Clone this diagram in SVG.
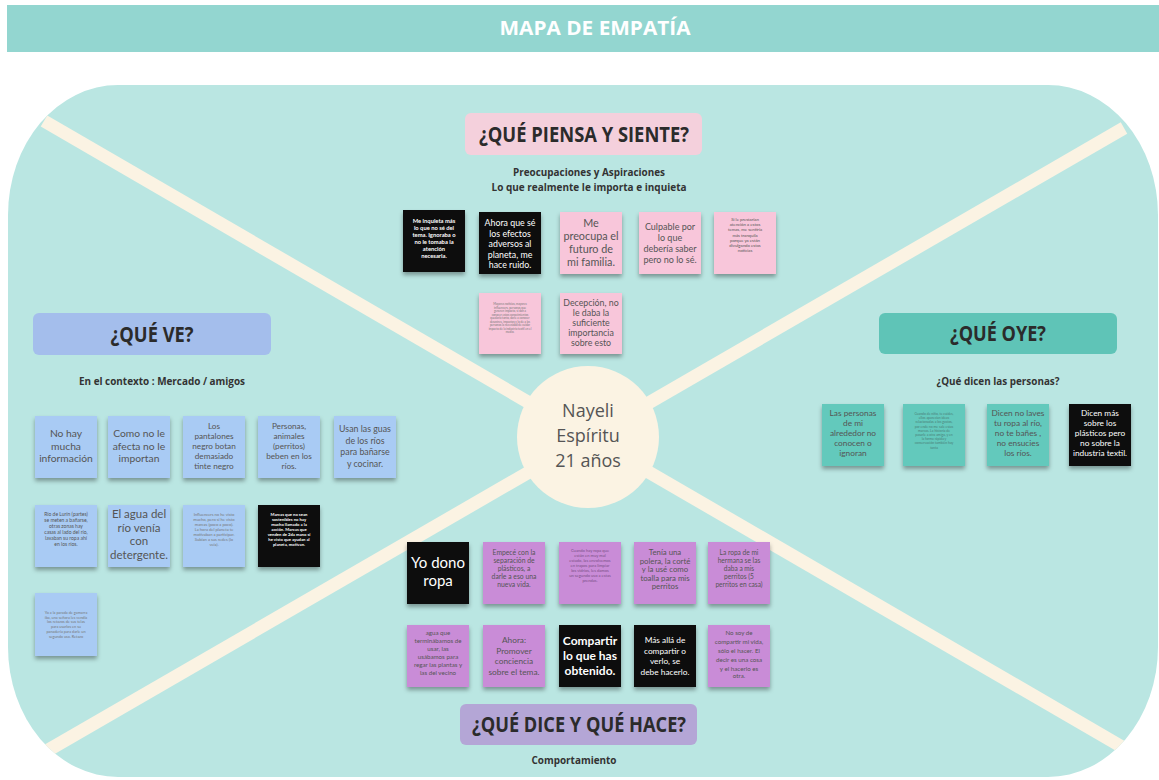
<svg xmlns="http://www.w3.org/2000/svg" width="1159" height="780" viewBox="0 0 1159 780">
<style>
text{font-family:"Open Sans","Liberation Sans",sans-serif;text-anchor:middle}
.hd{font-weight:700;fill:#2b2b2b;font-size:21px}
.sub{font-weight:700;fill:#333;font-size:10.5px}
.nt,.wt,.tiny{font-family:Lato,"Open Sans",sans-serif}
.nt{fill:#555}
.wt{fill:#fff}
.tiny{fill:#777}
.pink{fill:#F8C6DA}
.blue{fill:#A9CBF4}
.teal{fill:#63C9BC}
.purp{fill:#C98CD7}
.blk{fill:#111}
.line{stroke:#FBF3E3;stroke-width:13;fill:none}
</style>
<defs>
<filter id="sh" x="-20%" y="-20%" width="140%" height="150%">
<feDropShadow dx="0" dy="3" stdDeviation="2" flood-color="#000" flood-opacity="0.35"/>
</filter>
<clipPath id="bigclip"><rect x="8" y="85" width="1150" height="692" rx="110" ry="130"/></clipPath>
</defs>
<rect width="1159" height="780" fill="#ffffff"/>
<g id="header">
<rect x="7" y="5" width="1152" height="47" fill="#93D6D0"/>
<text x="595" y="35" font-size="20" font-weight="700" fill="#fff" textLength="191" lengthAdjust="spacingAndGlyphs">MAPA DE EMPATÍA</text>
</g>
<g id="board">
<rect x="8" y="85" width="1150" height="692" rx="110" ry="130" fill="#BAE6E2"/>
</g>
<g id="connectors" clip-path="url(#bigclip)">
<line class="line" x1="44" y1="121" x2="1136" y2="755"/>
<line class="line" x1="1124" y1="128" x2="38" y2="756"/>
</g>
<g id="center">
<circle cx="588" cy="437" r="71" fill="#FBF3E3"/>
<text x="588" y="417" font-size="18" fill="#555">Nayeli</text>
<text x="588" y="442" font-size="18" fill="#555">Espíritu</text>
<text x="588" y="467" font-size="18" fill="#555">21 años</text>
</g>
<g id="label-piensa">
<rect x="465" y="113" width="237" height="42" rx="6" fill="#F4D0DC"/>
<text class="hd" x="584" y="142" textLength="210" lengthAdjust="spacingAndGlyphs">¿QUÉ PIENSA Y SIENTE?</text>
<text class="sub" x="589" y="176" textLength="152" lengthAdjust="spacingAndGlyphs">Preocupaciones y Aspiraciones</text>
<text class="sub" x="589" y="191" textLength="195" lengthAdjust="spacingAndGlyphs">Lo que realmente le importa e inquieta</text>
</g>
<g id="label-ve">
<rect x="33" y="313" width="238" height="42" rx="6" fill="#A4BEEC"/>
<text class="hd" x="152" y="342" textLength="83" lengthAdjust="spacingAndGlyphs">¿QUÉ VE?</text>
<text class="sub" x="162" y="385" textLength="166" lengthAdjust="spacingAndGlyphs">En el contexto : Mercado / amigos</text>
</g>
<g id="label-oye">
<rect x="879" y="313" width="238" height="41" rx="6" fill="#5FC4B7"/>
<text class="hd" x="998" y="341" textLength="96" lengthAdjust="spacingAndGlyphs">¿QUÉ OYE?</text>
<text class="sub" x="998" y="385" textLength="123" lengthAdjust="spacingAndGlyphs">¿Qué dicen las personas?</text>
</g>
<g id="label-dice">
<rect x="460" y="704" width="237" height="41" rx="6" fill="#B4A6D6"/>
<text class="hd" x="579" y="732" textLength="214" lengthAdjust="spacingAndGlyphs">¿QUÉ DICE Y QUÉ HACE?</text>
<text class="sub" x="574" y="764" textLength="85" lengthAdjust="spacingAndGlyphs">Comportamiento</text>
</g>

<!-- Piensa y siente notes -->
<g id="p1"><rect class="blk" x="403" y="210" width="62" height="62" filter="url(#sh)"/>
<text class="wt" font-size="5.8" font-weight="700"><tspan x="434" y="223">Me inquieta más</tspan><tspan x="434" y="230">lo que no sé del</tspan><tspan x="434" y="237">tema. Ignoraba o</tspan><tspan x="434" y="244">no le tomaba la</tspan><tspan x="434" y="251">atención</tspan><tspan x="434" y="258">necesaria.</tspan></text></g>
<g id="p2"><rect class="blk" x="479" y="212" width="62" height="62" filter="url(#sh)"/>
<text class="wt" font-size="8.8"><tspan x="510" y="226">Ahora que sé</tspan><tspan x="510" y="236.5">los efectos</tspan><tspan x="510" y="247">adversos al</tspan><tspan x="510" y="257.5">planeta, me</tspan><tspan x="510" y="268">hace ruido.</tspan></text></g>
<g id="p3"><rect class="pink" x="560" y="212" width="62" height="62" filter="url(#sh)"/>
<text class="nt" font-size="10.8"><tspan x="591" y="227">Me</tspan><tspan x="591" y="240">preocupa el</tspan><tspan x="591" y="253">futuro de</tspan><tspan x="591" y="266">mi familia.</tspan></text></g>
<g id="p4"><rect class="pink" x="639" y="212" width="62" height="62" filter="url(#sh)"/>
<text class="nt" font-size="9"><tspan x="670" y="230">Culpable por</tspan><tspan x="670" y="241">lo que</tspan><tspan x="670" y="252">debería saber</tspan><tspan x="670" y="263">pero no lo sé.</tspan></text></g>
<g id="p5"><rect class="pink" x="714" y="212" width="62" height="62" filter="url(#sh)"/>
<text class="nt" font-size="4.3"><tspan x="745" y="221">Si le prestarían</tspan><tspan x="745" y="226.2">atención a estos</tspan><tspan x="745" y="231.4">temas, me sentiría</tspan><tspan x="745" y="236.6">más tranquila</tspan><tspan x="745" y="241.8">porque ya están</tspan><tspan x="745" y="247">divulgando estas</tspan><tspan x="745" y="252.2">noticias</tspan></text></g>
<g id="p6"><rect class="pink" x="479" y="293" width="62" height="61" filter="url(#sh)"/>
<text class="tiny" font-size="2.9"><tspan x="510" y="305">Mayores noticias, mayores</tspan><tspan x="510" y="308.5">influencers, personas que</tspan><tspan x="510" y="312">generen impacto, si dan a</tspan><tspan x="510" y="315.5">conocer estos conocimientos</tspan><tspan x="510" y="319">quedaría tanto, darle a conocer</tspan><tspan x="510" y="322.5">desastres, impactos y lo de a las</tspan><tspan x="510" y="326">personas la necesidad de cuidar</tspan><tspan x="510" y="329.5">impacto de la industria textil en el</tspan><tspan x="510" y="333">medio.</tspan></text></g>
<g id="p7"><rect class="pink" x="560" y="293" width="62" height="61" filter="url(#sh)"/>
<text class="nt" font-size="8.8"><tspan x="591" y="306">Decepción, no</tspan><tspan x="591" y="316">le daba la</tspan><tspan x="591" y="326">suficiente</tspan><tspan x="591" y="336">importancia</tspan><tspan x="591" y="346">sobre esto</tspan></text></g>

<!-- Qué ve notes -->
<g id="v1"><rect class="blue" x="35" y="416" width="62" height="62" filter="url(#sh)"/>
<text class="nt" font-size="10.3"><tspan x="66" y="437">No hay</tspan><tspan x="66" y="449.5">mucha</tspan><tspan x="66" y="462">información</tspan></text></g>
<g id="v2"><rect class="blue" x="108" y="416" width="62" height="62" filter="url(#sh)"/>
<text class="nt" font-size="10.3"><tspan x="139" y="437">Como no le</tspan><tspan x="139" y="449.5">afecta no le</tspan><tspan x="139" y="462">importan</tspan></text></g>
<g id="v3"><rect class="blue" x="183" y="416" width="62" height="62" filter="url(#sh)"/>
<text class="nt" font-size="8.2"><tspan x="214" y="429">Los</tspan><tspan x="214" y="439">pantalones</tspan><tspan x="214" y="449">negro botan</tspan><tspan x="214" y="459">demasiado</tspan><tspan x="214" y="469">tinte negro</tspan></text></g>
<g id="v4"><rect class="blue" x="258" y="416" width="62" height="62" filter="url(#sh)"/>
<text class="nt" font-size="8.2"><tspan x="289" y="429">Personas,</tspan><tspan x="289" y="439">animales</tspan><tspan x="289" y="449">(perritos)</tspan><tspan x="289" y="459">beben en los</tspan><tspan x="289" y="469">ríos.</tspan></text></g>
<g id="v5"><rect class="blue" x="334" y="416" width="62" height="62" filter="url(#sh)"/>
<text class="nt" font-size="8.8"><tspan x="365" y="432">Usan las guas</tspan><tspan x="365" y="443.5">de los ríos</tspan><tspan x="365" y="455">para bañarse</tspan><tspan x="365" y="466.5">y cocinar.</tspan></text></g>
<g id="v6"><rect class="blue" x="35" y="505" width="62" height="62" filter="url(#sh)"/>
<text class="nt" font-size="5"><tspan x="66" y="516">Río de Lurín (partes)</tspan><tspan x="66" y="522">se meten a bañarse,</tspan><tspan x="66" y="528">otras zonas hay</tspan><tspan x="66" y="534">casas al lado del río,</tspan><tspan x="66" y="540">lavaban su ropa ahí</tspan><tspan x="66" y="546">en los ríos.</tspan></text></g>
<g id="v7"><rect class="blue" x="108" y="505" width="62" height="62" filter="url(#sh)"/>
<text class="nt" font-size="11.5"><tspan x="139" y="518">El agua del</tspan><tspan x="139" y="531.5">río venía</tspan><tspan x="139" y="545">con</tspan><tspan x="139" y="558.5">detergente.</tspan></text></g>
<g id="v8"><rect class="blue" x="183" y="505" width="62" height="62" filter="url(#sh)"/>
<text class="tiny" font-size="4.1"><tspan x="214" y="516">Influencers no he visto</tspan><tspan x="214" y="521">mucho, pero sí he visto</tspan><tspan x="214" y="526">marcas (poco a poco).</tspan><tspan x="214" y="531">La hora del planeta te</tspan><tspan x="214" y="536">motivaban a participar.</tspan><tspan x="214" y="541">Subían a sus redes (lo</tspan><tspan x="214" y="546">veía).</tspan></text></g>
<g id="v9"><rect class="blk" x="258" y="505" width="62" height="62" filter="url(#sh)"/>
<text class="wt" font-size="4.2" font-weight="700"><tspan x="289" y="516">Marcas que no sean</tspan><tspan x="289" y="521">sostenibles no hay</tspan><tspan x="289" y="526">mucho llamado a la</tspan><tspan x="289" y="531">acción. Marcas que</tspan><tspan x="289" y="536">venden de 2da mano sí</tspan><tspan x="289" y="541">he visto que ayudan al</tspan><tspan x="289" y="546">planeta, motivan.</tspan></text></g>
<g id="v10"><rect class="blue" x="35" y="593" width="62" height="63" filter="url(#sh)"/>
<text class="tiny" font-size="3.8"><tspan x="66" y="614">Yo a la parada de gamarra</tspan><tspan x="66" y="618.7">iba, una señora les vendía</tspan><tspan x="66" y="623.4">los retazos de sus telas</tspan><tspan x="66" y="628.1">para usarlos en su</tspan><tspan x="66" y="632.8">panadería para darle un</tspan><tspan x="66" y="637.5">segundo uso. Retazo</tspan></text></g>

<!-- Qué oye notes -->
<g id="o1"><rect class="teal" x="822" y="404" width="62" height="62" filter="url(#sh)"/>
<text class="nt" font-size="8.3"><tspan x="853" y="416">Las personas</tspan><tspan x="853" y="426">de mi</tspan><tspan x="853" y="436">alrededor no</tspan><tspan x="853" y="446">conocen o</tspan><tspan x="853" y="456">ignoran</tspan></text></g>
<g id="o2"><rect class="teal" x="903" y="404" width="62" height="62" filter="url(#sh)"/>
<text class="tiny" font-size="3.4" style="fill:#4a7f78"><tspan x="934" y="415">Cuando de niño, te cuides,</tspan><tspan x="934" y="419.2">ellos aparecían ideas</tspan><tspan x="934" y="423.4">relacionadas a los gastos,</tspan><tspan x="934" y="427.6">por ende no me sale estas</tspan><tspan x="934" y="431.8">marcas. La historia de</tspan><tspan x="934" y="436">pasarle a otra amiga, y en</tspan><tspan x="934" y="440.2">la forma rápida y</tspan><tspan x="934" y="444.4">conservación también hay</tspan><tspan x="934" y="448.6">tanta</tspan></text></g>
<g id="o3"><rect class="teal" x="987" y="404" width="62" height="62" filter="url(#sh)"/>
<text class="nt" font-size="8.3"><tspan x="1018" y="416">Dicen no laves</tspan><tspan x="1018" y="426">tu ropa al río,</tspan><tspan x="1018" y="436">no te bañes ,</tspan><tspan x="1018" y="446">no ensucies</tspan><tspan x="1018" y="456">los ríos.</tspan></text></g>
<g id="o4"><rect class="blk" x="1069" y="404" width="62" height="62" filter="url(#sh)"/>
<text class="wt" font-size="8.3"><tspan x="1100" y="416">Dicen más</tspan><tspan x="1100" y="426">sobre los</tspan><tspan x="1100" y="436">plásticos pero</tspan><tspan x="1100" y="446">no sobre la</tspan><tspan x="1100" y="456">industria textil.</tspan></text></g>

<!-- Dice y hace notes -->
<g id="d1"><rect class="blk" x="407" y="542" width="62" height="62" filter="url(#sh)"/>
<text class="wt" font-size="15"><tspan x="438" y="568">Yo dono</tspan><tspan x="438" y="586">ropa</tspan></text></g>
<g id="d2"><rect class="purp" x="483" y="542" width="62" height="62" filter="url(#sh)"/>
<text class="nt" font-size="6.8"><tspan x="514" y="555">Empecé con la</tspan><tspan x="514" y="563">separación de</tspan><tspan x="514" y="571">plásticos, a</tspan><tspan x="514" y="579">darle a eso una</tspan><tspan x="514" y="587">nueva vida.</tspan></text></g>
<g id="d3"><rect class="purp" x="559" y="542" width="62" height="62" filter="url(#sh)"/>
<text class="tiny" font-size="4.1" style="fill:#7a4f86"><tspan x="590" y="552">Cuando hay ropa que</tspan><tspan x="590" y="557">están en muy mal</tspan><tspan x="590" y="562">estado, las envolvemos</tspan><tspan x="590" y="567">en trapos para limpiar</tspan><tspan x="590" y="572">los vidrios, les damos</tspan><tspan x="590" y="577">un segundo uso a estas</tspan><tspan x="590" y="582">prendas.</tspan></text></g>
<g id="d4"><rect class="purp" x="634" y="542" width="62" height="62" filter="url(#sh)"/>
<text class="nt" font-size="7.8"><tspan x="665" y="555">Tenía una</tspan><tspan x="665" y="563.5">polera, la corté</tspan><tspan x="665" y="572">y la usé como</tspan><tspan x="665" y="580.5">toalla para mis</tspan><tspan x="665" y="589">perritos</tspan></text></g>
<g id="d5"><rect class="purp" x="708" y="542" width="62" height="62" filter="url(#sh)"/>
<text class="nt" font-size="6.6"><tspan x="739" y="555">La ropa de mi</tspan><tspan x="739" y="563">hermana se las</tspan><tspan x="739" y="571">daba a mis</tspan><tspan x="739" y="579">perritos (5</tspan><tspan x="739" y="587">perritos en casa)</tspan></text></g>
<g id="d6"><rect class="purp" x="407" y="625" width="62" height="62" filter="url(#sh)"/>
<text class="nt" font-size="6.2"><tspan x="438" y="635">agua que</tspan><tspan x="438" y="643">terminábamos de</tspan><tspan x="438" y="651">usar, las</tspan><tspan x="438" y="659">usábamos para</tspan><tspan x="438" y="667">regar las plantas y</tspan><tspan x="438" y="675">las del vecino</tspan></text></g>
<g id="d7"><rect class="purp" x="483" y="625" width="62" height="62" filter="url(#sh)"/>
<text class="nt" font-size="8.3"><tspan x="514" y="643">Ahora:</tspan><tspan x="514" y="653.5">Promover</tspan><tspan x="514" y="664">conciencia</tspan><tspan x="514" y="674.5">sobre el tema.</tspan></text></g>
<g id="d8"><rect class="blk" x="559" y="625" width="62" height="62" filter="url(#sh)"/>
<text class="wt" font-size="12" font-weight="700"><tspan x="590" y="645">Compartir</tspan><tspan x="590" y="660">lo que has</tspan><tspan x="590" y="675">obtenido.</tspan></text></g>
<g id="d9"><rect class="blk" x="634" y="625" width="62" height="62" filter="url(#sh)"/>
<text class="wt" font-size="8.3"><tspan x="665" y="643">Más allá de</tspan><tspan x="665" y="653.5">compartir o</tspan><tspan x="665" y="664">verlo, se</tspan><tspan x="665" y="674.5">debe hacerlo.</tspan></text></g>
<g id="d10"><rect class="purp" x="708" y="625" width="62" height="62" filter="url(#sh)"/>
<text class="nt" font-size="6.2"><tspan x="739" y="635">No soy de</tspan><tspan x="739" y="644">compartir mi vida,</tspan><tspan x="739" y="653">sólo el hacer. El</tspan><tspan x="739" y="662">decir es una cosa</tspan><tspan x="739" y="670.5">y el hacerlo es</tspan><tspan x="739" y="678">otra.</tspan></text></g>
</svg>
